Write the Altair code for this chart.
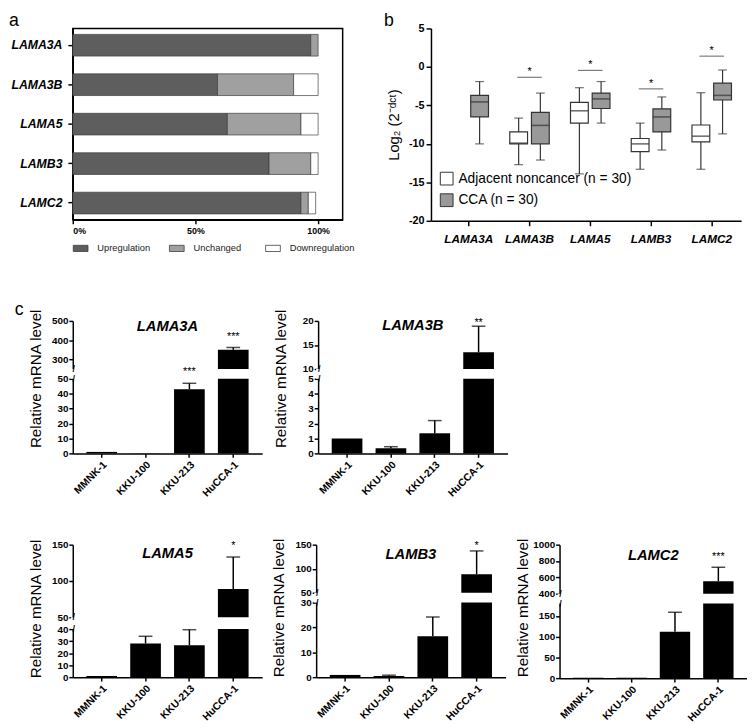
import altair as alt
import pandas as pd

FONT = "Liberation Sans"

# ---------------- panel a : proportion of cases ----------------
a_genes = ["LAMA3A", "LAMA3B", "LAMA5", "LAMB3", "LAMC2"]
a_status = ["Upregulation", "Unchanged", "Downregulation"]
a_up = [97, 59, 63, 80, 93]
a_unchanged = [3, 31, 30, 17, 3]
a_down = [0, 10, 7, 3, 3]
a_ticks = [0, 50, 100]
a_colors = ["#5e5e5e", "#a0a0a0", "#ffffff"]

# ---------------- panel b : box plots ----------------
b_genes = ["LAMA3A", "LAMA3B", "LAMA5", "LAMB3", "LAMC2"]
b_groups = ["Adjacent noncancer (n = 30)", "CCA (n = 30)"]
adj_min = [None, -12.7, -13.9, -13.3, -13.3]
adj_q1 = [None, -10.0, -7.3, -11.0, -9.75]
adj_med = [None, -9.9, -5.7, -10.0, -9.0]
adj_q3 = [None, -8.45, -4.6, -9.3, -7.55]
adj_max = [None, -6.65, -2.7, -7.3, -3.35]
cca_min = [-10.0, -12.1, -7.3, -10.8, -8.7]
cca_q1 = [-6.5, -10.0, -5.4, -8.45, -4.3]
cca_med = [-4.55, -7.6, -4.15, -6.5, -3.7]
cca_q3 = [-3.7, -5.9, -3.4, -5.45, -2.1]
cca_max = [-1.9, -3.4, -1.9, -3.9, -0.4]
sig_genes = ["LAMA3B", "LAMA5", "LAMB3", "LAMC2"]
sig_y = [-1.35, -0.45, -2.85, 1.4]
sig_marks = ["*", "*", "*", "*"]
b_ticks = [5, 0, -5, -10, -15, -20]
b_colors = ["#ffffff", "#999999"]

# ---------------- panel c : relative mRNA level ----------------
cells = ["MMNK-1", "KKU-100", "KKU-213", "HuCCA-1"]

lama3a_mean = [1.0, 0.1, 43.0, 350.0]
lama3a_err = [None, None, 47.0, 362.0]
lama3a_sig = ["", "", "***", "***"]
lama3a_ticks = [0, 10, 20, 30, 40, 50, 300, 400, 500]
lama3a_break = [50, 250]
lama3a_top = 500

lama3b_mean = [1.0, 0.35, 1.35, 13.5]
lama3b_err = [None, 0.45, 2.2, 18.9]
lama3b_sig = ["", "", "", "**"]
lama3b_ticks = [0, 1, 2, 3, 4, 5, 10, 15, 20]
lama3b_break = [5, 10]
lama3b_top = 20

lama5_mean = [1.0, 28.0, 26.5, 89.0]
lama5_err = [None, 34.0, 39.5, 133.0]
lama5_sig = ["", "", "", "*"]
lama5_ticks = [0, 10, 20, 30, 40, 50, 100, 150]
lama5_break = [40, 50]
lama5_top = 150

lamb3_mean = [0.9, 0.5, 16.5, 88.5]
lamb3_err = [None, 0.8, 24.2, 137.0]
lamb3_sig = ["", "", "", "*"]
lamb3_ticks = [0, 10, 20, 30, 50, 100, 150]
lamb3_break = [30, 50]
lamb3_top = 150

lamc2_mean = [1.0, 1.0, 112.0, 554.0]
lamc2_err = [None, None, 159.0, 724.0]
lamc2_sig = ["", "", "", "***"]
lamc2_ticks = [0, 50, 100, 150, 400, 600, 800, 1000]
lamc2_break = [180, 400]
lamc2_top = 1000

MINUS_FIX = "replace(datum.label, '\u2212', '-')"


def text_layer(txt, x, y, size, weight="normal", style="normal", align="left"):
    return alt.Chart(pd.DataFrame({"t": [txt]})).mark_text(
        align=align, baseline="alphabetic", fontSize=size, fontWeight=weight,
        fontStyle=style, color="black"
    ).encode(text="t:N", x=alt.value(x), y=alt.value(y))


def anchor_layer(x, y1, y2):
    # invisible layout anchor fixing the extent of a row
    return alt.Chart(pd.DataFrame({"t": [0]})).mark_rule(
        color="white", strokeOpacity=0, strokeWidth=1
    ).encode(x=alt.value(x), y=alt.value(y1), y2=alt.value(y2))


# ================= panel a =================
A_W, A_H = 275, 195
rows = []
for i, g in enumerate(a_genes):
    for k, vals in enumerate([a_up, a_unchanged, a_down]):
        if vals[i] > 0:
            rows.append({"gene": g, "status": a_status[k], "pct": vals[i], "ord": k})
df_a = pd.DataFrame(rows)

bars_a = alt.Chart(df_a).mark_bar(stroke="#3c3c3c", strokeWidth=0.7).encode(
    x=alt.X("pct:Q", stack="zero", scale=alt.Scale(domain=[0, 110], nice=False),
            axis=alt.Axis(values=a_ticks, labelExpr="datum.value + '%'", title=None,
                          labelFontSize=9, labelFontWeight="bold", tickSize=4,
                          labelPadding=3)),
    y=alt.Y("gene:N", sort=a_genes,
            scale=alt.Scale(paddingInner=0.45, paddingOuter=0.15),
            axis=alt.Axis(title=None, labelFontSize=12.5, labelFontWeight="bold",
                          labelFontStyle="italic", tickSize=5, labelPadding=6)),
    color=alt.Color("status:N", scale=alt.Scale(domain=a_status, range=a_colors),
                    legend=alt.Legend(orient="none", legendX=0, legendY=216,
                                      direction="horizontal", title=None,
                                      symbolType="M-1,-0.42H1V0.42H-1Z", symbolSize=225,
                                      symbolStrokeColor="#3c3c3c", symbolStrokeWidth=0.8,
                                      labelFontSize=9.5, labelColor="#222",
                                      labelOffset=9, columnPadding=4, gridAlign="all")),
    order=alt.Order("ord:Q"),
)
panel_a = alt.layer(
    bars_a,
    text_layer("a", -65, -3, 18),
    anchor_layer(-72, -21, 263),
).properties(width=A_W, height=A_H,
             view=alt.ViewBackground(stroke="black", strokeWidth=1.5))

# ================= panel b =================
B_W, B_H = 316, 196
rows = []
for i, g in enumerate(b_genes):
    if adj_min[i] is not None:
        rows.append(dict(gene=g, group=b_groups[0], lo=adj_min[i], q1=adj_q1[i],
                         med=adj_med[i], q3=adj_q3[i], hi=adj_max[i]))
    rows.append(dict(gene=g, group=b_groups[1], lo=cca_min[i], q1=cca_q1[i],
                     med=cca_med[i], q3=cca_q3[i], hi=cca_max[i]))
df_b = pd.DataFrame(rows)
df_sig = pd.DataFrame({"gene": sig_genes, "y": sig_y, "s": sig_marks})

bx = alt.X("gene:N",
           scale=alt.Scale(domain=b_genes, paddingInner=0.3, paddingOuter=0.203, align=0.67),
           axis=alt.Axis(title=None, labelAngle=0, labelFontSize=12, labelFontWeight="bold",
                         labelFontStyle="italic", tickSize=5, labelPadding=8))
bxo = alt.XOffset("group:N",
                  scale=alt.Scale(domain=b_groups, paddingInner=0.18, paddingOuter=0.07))
b_yscale = alt.Scale(domain=[-20, 5], nice=False, zero=False)
b_yaxis = alt.Axis(values=b_ticks, title="Log\u2082 (2\u207b\u1d48\u1d9c\u1d57)",
                   titleFontSize=15, titleFontWeight="normal", titlePadding=7,
                   labelFontSize=11, labelFontWeight="bold", tickSize=5, labelPadding=2,
                   labelExpr=MINUS_FIX)


def by(f):
    return alt.Y(f, scale=b_yscale, axis=b_yaxis)


base_b = alt.Chart(df_b)
whisk = base_b.mark_rule(color="#333333", strokeWidth=1.2).encode(
    x=bx, xOffset=bxo, y=by("lo:Q"), y2="hi:Q")
cap_lo = base_b.mark_tick(color="#333333", size=9, thickness=1.2).encode(
    x=bx, xOffset=bxo, y=by("lo:Q"))
cap_hi = base_b.mark_tick(color="#333333", size=9, thickness=1.2).encode(
    x=bx, xOffset=bxo, y=by("hi:Q"))
box = base_b.mark_bar(stroke="#333333", strokeWidth=1.2).encode(
    x=bx, xOffset=bxo, y=by("q1:Q"), y2="q3:Q",
    fill=alt.Fill("group:N", scale=alt.Scale(domain=b_groups, range=b_colors),
                  legend=alt.Legend(orient="none", legendX=9, legendY=146, title=None,
                                    symbolType="square", symbolSize=169,
                                    symbolStrokeColor="#333333", symbolStrokeWidth=1,
                                    labelFontSize=14, labelColor="black", labelLimit=300,
                                    labelOffset=5, rowPadding=4)))
med = base_b.mark_tick(color="#333333", size=18, thickness=1.6).encode(
    x=bx, xOffset=bxo, y=by("med:Q"))
sig_line = alt.Chart(df_sig).mark_tick(color="#444444", size=25, thickness=1.2).encode(
    x=bx, y=by("y:Q"))
sig_star = alt.Chart(df_sig).mark_text(fontSize=11, dy=-2, baseline="alphabetic").encode(
    x=bx, y=by("y:Q"), text="s:N")
panel_b = alt.layer(
    whisk, cap_lo, cap_hi, box, med, sig_line, sig_star,
    text_layer("b", -48, -3, 18),
).properties(width=B_W, height=B_H)


# ================= panel c =================
def c_panel(name, mean, err, sig, ticks, brk, top, width, top_h, gap, bot_h,
            title_base, ytitle_y, star_dy, extras=()):
    H = top_h + gap + bot_h
    df = pd.DataFrame({"cell": cells, "mean": mean,
                       "err": [float("nan") if e is None else e for e in err],
                       "sig": sig})
    df["star_y"] = df["err"].fillna(df["mean"])
    err_df = df[df["err"].notna()][["cell", "mean", "err"]]
    star_df = df[df["sig"] != ""][["cell", "star_y", "sig"]]

    ysc = alt.Scale(domain=[0, brk[0], brk[1], top], range=[H, top_h + gap, top_h, 0],
                    nice=False, zero=False)
    yax = alt.Axis(values=ticks, format="d", title="Relative mRNA level",
                   titleFontSize=15.5, titleFontWeight="normal", titleX=-30,
                   titleY=ytitle_y, titleAngle=-90, titleAlign="center",
                   titleBaseline="bottom", labelFontSize=10, labelFontWeight="bold",
                   tickSize=4, labelPadding=1)
    xs = alt.X("cell:N", scale=alt.Scale(domain=cells, paddingInner=0.3, paddingOuter=0.31),
               axis=alt.Axis(title=None, labelAngle=-45, labelFontSize=10.5,
                             labelFontWeight="bold", tickSize=4, labelPadding=2))

    def Y(f):
        return alt.Y(f, scale=ysc, axis=yax)

    bars = alt.Chart(df).mark_bar(color="black").encode(x=xs, y=Y("mean:Q"))
    ebar = alt.Chart(err_df).mark_rule(color="black", strokeWidth=1.5).encode(
        x=xs, y=Y("mean:Q"), y2="err:Q")
    ecap = alt.Chart(err_df).mark_tick(color="black", size=14, thickness=1.5).encode(
        x=xs, y=Y("err:Q"))
    gap_rect = alt.Chart(pd.DataFrame({"lo": [brk[0]], "hi": [brk[1]]})).mark_rect(
        color="white").encode(x=alt.value(-2), x2=alt.value(width), y=Y("lo:Q"), y2="hi:Q")
    slashes = alt.Chart(pd.DataFrame({"yb": brk, "t": ["/", "/"]})).mark_text(
        fontSize=9, fontWeight="bold", baseline="middle", align="center").encode(
        x=alt.value(1), y=Y("yb:Q"), text="t:N")
    stars = alt.Chart(star_df).mark_text(fontSize=11, dy=star_dy, baseline="alphabetic").encode(
        x=xs, y=Y("star_y:Q"), text="sig:N")
    title = text_layer(name, width / 2, title_base, 15, "bold", "italic", "center")
    layers = [bars, ebar, ecap, gap_rect, slashes, stars, title] + list(extras)
    return alt.layer(*layers).properties(width=width, height=H)


c1 = c_panel("LAMA3A", lama3a_mean, lama3a_err, lama3a_sig, lama3a_ticks, lama3a_break,
             lama3a_top, 193, 49, 10, 76, 10, 58.5, -8,
             extras=[text_layer("c", -59, -6, 18), anchor_layer(-66, -24, 192)])
c2 = c_panel("LAMA3B", lama3b_mean, lama3b_err, lama3b_sig, lama3b_ticks, lama3b_break,
             lama3b_top, 193, 49, 10, 76, 9, 58.5, 0)
c3 = c_panel("LAMA5", lama5_mean, lama5_err, lama5_sig, lama5_ticks, lama5_break,
             lama5_top, 193, 74, 12, 49, 14, 65, -8,
             extras=[anchor_layer(-66, -26, 150)])
c4 = c_panel("LAMB3", lamb3_mean, lamb3_err, lamb3_sig, lamb3_ticks, lamb3_break,
             lamb3_top, 193, 49, 10, 76, 15, 64, -2)
c5 = c_panel("LAMC2", lamc2_mean, lamc2_err, lamc2_sig, lamc2_ticks, lamc2_break,
             lamc2_top, 191, 50, 10, 76, 16, 64, -7)

row1 = alt.hconcat(panel_a, panel_b, spacing=90, bounds="flush").resolve_scale(
    color="independent", fill="independent")
row2 = alt.hconcat(c1, c2, spacing=57, bounds="flush")
row3 = alt.hconcat(c3, c4, c5, spacing=55, bounds="flush")

chart = alt.vconcat(row1, row2, row3, spacing=10, bounds="full").resolve_scale(
    color="independent", fill="independent"
).properties(
    padding={"left": -7, "top": -8, "right": 0, "bottom": 0}
).configure(font=FONT).configure_view(stroke=None).configure_axis(
    domainColor="black", domainWidth=1.5, tickColor="black", tickWidth=1.5,
    labelColor="black", titleColor="black", grid=False, labelFont=FONT, titleFont=FONT
).configure_legend(labelFont=FONT)

chart.save("out.html", embed_options={"renderer": "svg", "actions": False})
